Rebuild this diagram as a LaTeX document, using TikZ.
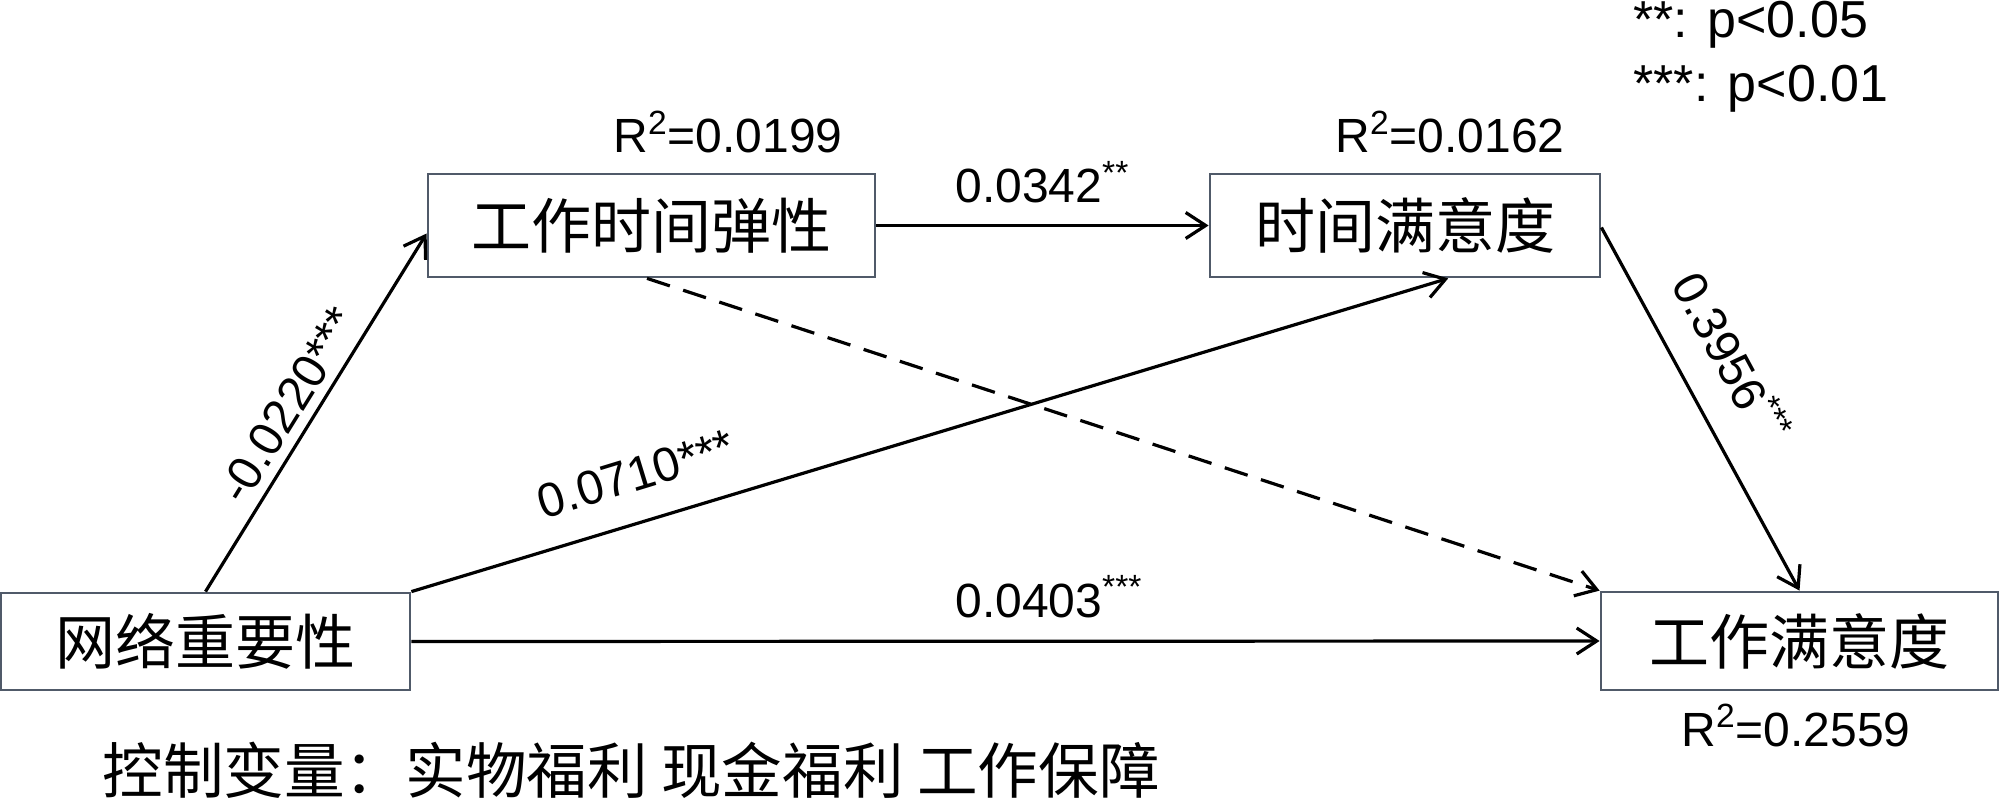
\documentclass[tikz,border=0pt]{standalone}
\usepackage{fontspec}
\setmainfont{Liberation Sans}
\newfontfamily\cjk{Noto Sans CJK SC}
\usetikzlibrary{arrows.meta,calc}
\definecolor{boxline}{RGB}{80,90,105}
\tikzset{
  box/.style={draw=boxline,line width=1.4pt,fill=white,inner sep=0pt,font=\cjk\fontsize{30}{36}\selectfont},
  arr/.style={line width=1.6pt,-{Straight Barb[length=10pt,width=13pt]}},
  num/.style={inner sep=0pt,font=\fontsize{24}{29}\selectfont},
  legend/.style={inner sep=0pt,font=\fontsize{26}{31}\selectfont},
  note/.style={inner sep=0pt,font=\cjk\fontsize{30.3}{36}\selectfont}
}
\begin{document}
\begin{tikzpicture}[x=0.5pt,y=-0.5pt]
\useasboundingbox[fill=white] (0,0) rectangle (2000,807);
% boxes
\node[box,minimum width=204.5pt,minimum height=48.5pt] (b1) at (205.5,641.5) {网络重要性};
\node[box,minimum width=223.5pt,minimum height=51.5pt] (b2) at (651.5,225.5) {工作时间弹性};
\node[box,minimum width=195pt,minimum height=51.5pt] (b3) at (1405,225.5) {时间满意度};
\node[box,minimum width=198.5pt,minimum height=49pt] (b4) at (1799.5,641) {工作满意度};
% connectors
\draw[arr] ($(b1.north west)!0.5!(b1.north east)$) -- ([yshift=-4pt]b2.west);
\draw[arr] (b1.north east) -- ($(b3.south west)!0.61!(b3.south east)$);
\draw[arr] (b1.east) -- (b4.west);
\draw[arr] (b2.east) -- (b3.west);
\draw[arr,dash pattern=on 12pt off 7pt] ($(b2.south west)!0.49!(b2.south east)$) -- (b4.north west);
\draw[arr] ([yshift=-1pt]b3.east) -- ($(b4.north west)!0.5!(b4.north east)$);
% labels
\node[legend,anchor=base west] (l1) at (1633,38) {**: p<0.05};
\node[legend,anchor=base west] (l2) at (1633,102) {***: p<0.01};
\node[num,anchor=base west] (r1) at (613,153) {R\textsuperscript{2}=0.0199};
\node[num,anchor=base west] (r2) at (1335,153) {R\textsuperscript{2}=0.0162};
\node[num,anchor=base west] (r3) at (1681,746) {R\textsuperscript{2}=0.2559};
\node[num,anchor=base west] (c1) at (955,203) {0.0342\textsuperscript{**}};
\node[num,anchor=base west] (c2) at (955,617) {0.0403\textsuperscript{***}};
\node[num,rotate=58.2] (c3) at (288,405) {-0.0220***};
\node[num,rotate=17] (c4) at (636,474) {0.0710***};
\node[num,rotate=-61.6] (c5) at (1733,357) {0.3956\textsuperscript{***}};
\node[note,anchor=base west] (ctrl) at (102,793) {控制变量：实物福利 现金福利 工作保障};
\end{tikzpicture}
\end{document}
